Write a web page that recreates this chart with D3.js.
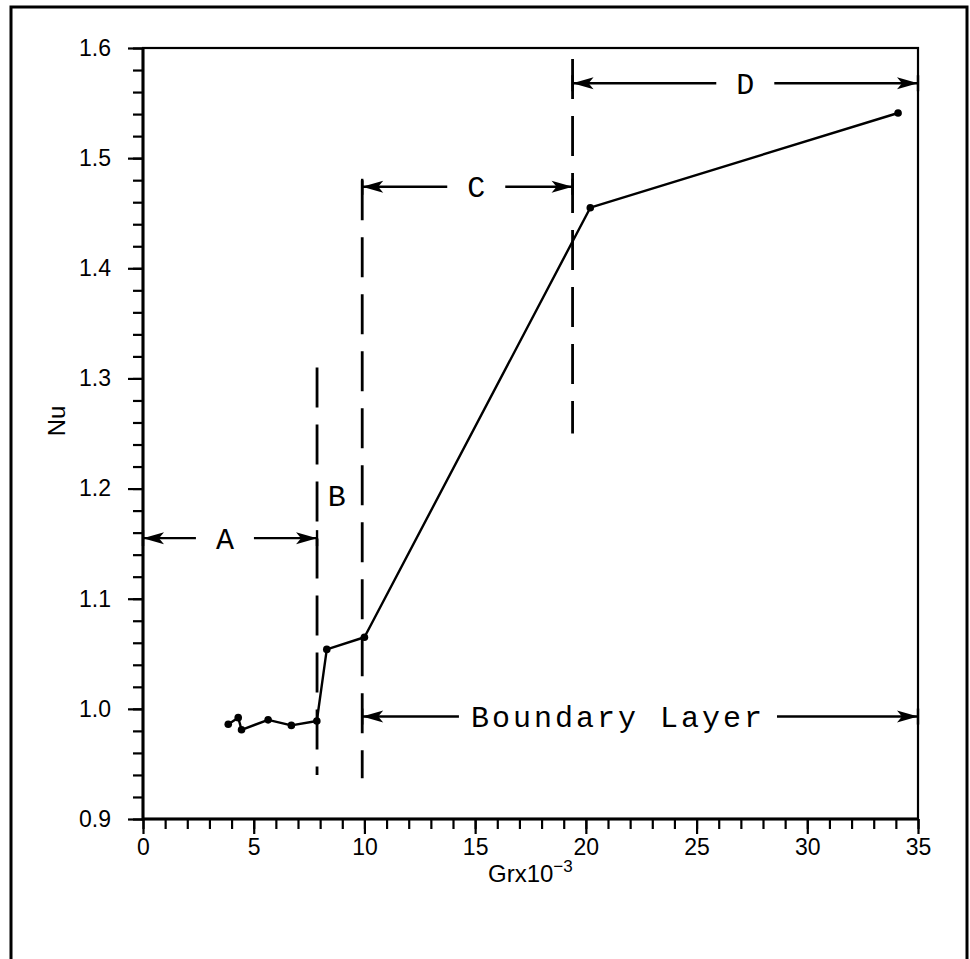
<!DOCTYPE html>
<html>
<head>
<meta charset="utf-8">
<script src="https://cdn.jsdelivr.net/npm/d3@7"></script>
<style>
body{margin:0;background:#fff}
svg{display:block}
.axis text{font-family:"Liberation Sans",Arial,sans-serif;font-size:23px;fill:#000}
.mono{font-family:"Liberation Mono","Courier New",monospace;fill:#000}
.sans{font-family:"Liberation Sans",Arial,sans-serif;fill:#000}
</style>
</head>
<body>
<svg id="viz-svg" width="970" height="959"></svg>
<script>
// measured points, Grx x 10^-3 vs Nu
var grx = [3.85, 4.30, 4.45, 5.65, 6.70, 7.85, 8.30, 10.0, 20.2, 34.1]
  , nu = [0.986, 0.992, 0.981, 0.990, 0.985, 0.989, 1.054, 1.065, 1.455, 1.541]
  , xTicks = [0, 5, 10, 15, 20, 25, 30, 35]
  , yTicks = [0.9, 1.0, 1.1, 1.2, 1.3, 1.4, 1.5, 1.6]
  // regime arrows
  , regionNames = ["A", "C", "D", "Boundary Layer"]
  , regionFrom = [0, 9.9, 19.4, 9.9]
  , regionTo = [7.86, 19.4, 35, 35]
  , regionNu = [1.155, 1.474, 1.568, 0.993]
  , regionLabelAt = [3.7, 15.05, 27.2, 21.45]
  // dashed dividers
  , dividerAt = [7.86, 9.9, 19.4]
  , dividerLow = [0.94, 0.937, 1.25]
  , dividerHigh = [1.31, 1.48, 1.59]
  , bLabel = {name: "B", grx: 8.75, nu: 1.194}
  ;

var svg = d3.select("#viz-svg")
  , margin = {left: 143, right: 918, top: 48, bottom: 819}
  , x = d3.scaleLinear().domain([0, 35]).range([margin.left, margin.right])
  , y = d3.scaleLinear().domain([0.9, 1.6]).range([margin.bottom, margin.top])
  ;

// outer frame
svg.append("rect")
  .attr("x", 11).attr("y", 7)
  .attr("width", 956).attr("height", 1000)
  .attr("fill", "none")
  .attr("stroke", "#000")
  .attr("stroke-width", 3);

// minor ticks
svg.append("g")
  .attr("class", "axis")
  .attr("transform", "translate(0," + margin.bottom + ")")
  .call(d3.axisBottom(x).tickValues(d3.range(0, 36, 1)).tickSize(10).tickFormat(""))
  .call(function(g){ g.select(".domain").remove(); });
svg.append("g")
  .attr("class", "axis")
  .attr("transform", "translate(" + margin.left + ",0)")
  .call(d3.axisLeft(y).tickValues(d3.range(0, 36).map(function(i){ return 0.9 + i * 0.02; })).tickSize(10).tickFormat(""))
  .call(function(g){ g.select(".domain").remove(); });

// major ticks + labels
svg.append("g")
  .attr("class", "axis")
  .attr("transform", "translate(0," + margin.bottom + ")")
  .call(d3.axisBottom(x).tickValues(xTicks).tickSize(15).tickPadding(5).tickFormat(d3.format("d")))
  .call(function(g){ g.select(".domain").remove(); });
svg.append("g")
  .attr("class", "axis")
  .attr("transform", "translate(" + margin.left + ",0)")
  .call(d3.axisLeft(y).tickValues(yTicks).tickSize(15).tickPadding(17).tickFormat(d3.format(".1f")))
  .call(function(g){ g.select(".domain").remove(); });

svg.selectAll(".axis line")
  .attr("stroke", "#000")
  .attr("stroke-width", 2.2);

// plot box
svg.append("rect")
  .attr("x", margin.left).attr("y", margin.top)
  .attr("width", margin.right - margin.left)
  .attr("height", margin.bottom - margin.top)
  .attr("fill", "none")
  .attr("stroke", "#000")
  .attr("stroke-width", 2.2);
svg.append("path")
  .attr("d", "M" + margin.left + "," + margin.top + "V" + margin.bottom + "H" + margin.right)
  .attr("fill", "none")
  .attr("stroke", "#000")
  .attr("stroke-width", 3);

// axis titles
svg.append("text")
  .classed("sans", true)
  .attr("transform", "translate(65,421) rotate(-90)")
  .attr("text-anchor", "middle")
  .style("font-size", "24px")
  .text("Nu");

var xTitle = svg.append("text")
  .classed("sans", true)
  .attr("x", 488).attr("y", 882)
  .style("font-size", "24px");
xTitle.append("tspan").text("Grx10");
xTitle.append("tspan").attr("dy", -10).style("font-size", "17px").text("\u22123");

// dashed dividers
svg.selectAll(".divider")
  .data(dividerAt)
  .enter().append("line")
  .classed("divider", true)
  .attr("x1", function(d){ return x(d); })
  .attr("x2", function(d){ return x(d); })
  .attr("y1", function(d, i){ return y(dividerHigh[i]); })
  .attr("y2", function(d, i){ return y(dividerLow[i]); })
  .attr("stroke", "#000")
  .attr("stroke-width", 2.8)
  .attr("stroke-dasharray", "40,17");

// arrowheads
svg.append("defs").append("marker")
  .attr("id", "head")
  .attr("viewBox", "-22 -7 24 14")
  .attr("refX", 0).attr("refY", 0)
  .attr("markerWidth", 24).attr("markerHeight", 14)
  .attr("markerUnits", "userSpaceOnUse")
  .attr("orient", "auto-start-reverse")
  .append("path")
  .attr("d", "M0,0L-21,-6L-16,0L-21,6Z")
  .attr("fill", "#000");

// region arrows with labels
regionNames.forEach(function(name, i){
  var cx = x(regionLabelAt[i])
    , cy = y(regionNu[i])
    , big = name.length > 1
    , label = svg.append("text")
        .classed("mono", true)
        .attr("x", cx).attr("y", cy)
        .attr("dy", "0.35em")
        .attr("text-anchor", "middle")
        .style("font-size", "30px")
        .style("letter-spacing", big ? "3px" : "0px")
        .text(name)
    , half = label.node().getComputedTextLength() / 2 + (big ? 12 : 20)
    ;
  svg.append("line")
    .attr("x1", cx - half).attr("x2", x(regionFrom[i]))
    .attr("y1", cy).attr("y2", cy)
    .attr("stroke", "#000").attr("stroke-width", 2.4)
    .attr("marker-end", "url(#head)");
  svg.append("line")
    .attr("x1", cx + half).attr("x2", x(regionTo[i]))
    .attr("y1", cy).attr("y2", cy)
    .attr("stroke", "#000").attr("stroke-width", 2.4)
    .attr("marker-end", "url(#head)");
  // end bars
  [regionFrom[i], regionTo[i]].forEach(function(v){
    svg.append("line")
      .attr("x1", x(v)).attr("x2", x(v))
      .attr("y1", cy - 8).attr("y2", cy + 8)
      .attr("stroke", "#000").attr("stroke-width", 2.4);
  });
});

svg.append("text")
  .classed("mono", true)
  .attr("x", x(bLabel.grx)).attr("y", y(bLabel.nu))
  .attr("dy", "0.35em")
  .attr("text-anchor", "middle")
  .style("font-size", "30px")
  .text(bLabel.name);

// data line
var pts = grx.map(function(g, i){ return [g, nu[i]]; });
svg.append("path")
  .datum(pts)
  .attr("fill", "none")
  .attr("stroke", "#000")
  .attr("stroke-width", 2.4)
  .attr("stroke-linejoin", "round")
  .attr("d", d3.line().x(function(d){ return x(d[0]); }).y(function(d){ return y(d[1]); }));

svg.selectAll(".pt")
  .data(pts)
  .enter().append("circle")
  .classed("pt", true)
  .attr("cx", function(d){ return x(d[0]); })
  .attr("cy", function(d){ return y(d[1]); })
  .attr("r", 3.8)
  .attr("fill", "#000");
</script>
</body>
</html>
